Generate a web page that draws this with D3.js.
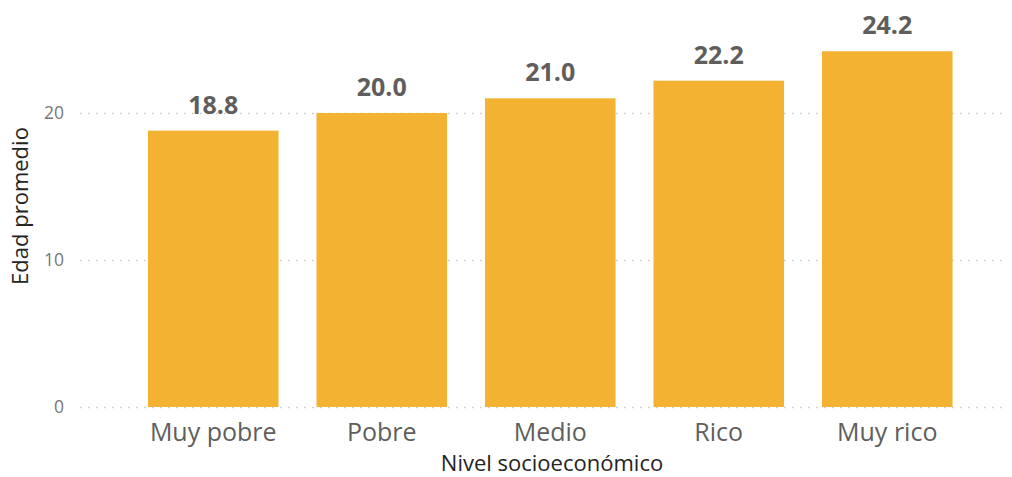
<!DOCTYPE html>
<html>
<head>
<meta charset="utf-8">
<script src="https://cdn.jsdelivr.net/npm/d3@7"></script>
<style>
  body { margin: 0; background: #fff; }
  svg text { font-family: "Open Sans", "Noto Sans", sans-serif; }
</style>
</head>
<body>
<svg id="chart" width="1012" height="477"></svg>
<script>
// data
const categories = ['Muy pobre', 'Pobre', 'Medio', 'Rico', 'Muy rico'];
const values = [18.8, 20.0, 21.0, 22.2, 24.2];
const yTicks = [0, 10, 20];

const svg = d3.select('#chart');

const x = d3.scaleBand()
    .domain(categories)
    .range([129, 971.5])
    .paddingInner(0.225)
    .paddingOuter(0.1125);

const y = d3.scaleLinear()
    .domain([0, 25])
    .range([407, 39.5]);

// dotted gridlines
svg.append('g')
    .selectAll('line')
    .data(yTicks)
    .join('line')
    .attr('x1', 80)
    .attr('x2', 1006)
    .attr('y1', d => y(d) + 0.5)
    .attr('y2', d => y(d) + 0.5)
    .attr('stroke', '#c8c8c8')
    .attr('stroke-width', 1.5)
    .attr('stroke-dasharray', '1.5,6.5');

// y tick labels
svg.append('g')
    .selectAll('text')
    .data(yTicks)
    .join('text')
    .attr('x', 64)
    .attr('y', d => y(d))
    .attr('dy', '0.36em')
    .attr('text-anchor', 'end')
    .attr('font-size', '17.5px')
    .attr('fill', '#777')
    .text(d => d);

// bars
svg.append('g')
    .selectAll('rect')
    .data(values)
    .join('rect')
    .attr('x', (d, i) => x(categories[i]))
    .attr('width', x.bandwidth())
    .attr('y', d => y(d))
    .attr('height', d => y(0) - y(d))
    .attr('fill', '#F4B233');

// value labels
svg.append('g')
    .selectAll('text')
    .data(values)
    .join('text')
    .attr('x', (d, i) => x(categories[i]) + x.bandwidth() / 2)
    .attr('y', d => y(d) - 17)
    .attr('text-anchor', 'middle')
    .attr('font-size', '25px')
    .attr('font-weight', 'bold')
    .attr('fill', '#605E5C')
    .text(d => d.toFixed(1));

// x category labels
svg.append('g')
    .selectAll('text')
    .data(categories)
    .join('text')
    .attr('x', d => x(d) + x.bandwidth() / 2)
    .attr('y', 441)
    .attr('text-anchor', 'middle')
    .attr('font-size', '25px')
    .attr('fill', '#605E5C')
    .text(d => d);

// axis titles
svg.append('text')
    .attr('x', 552)
    .attr('y', 471)
    .attr('text-anchor', 'middle')
    .attr('font-size', '22px')
    .attr('fill', '#252423')
    .text('Nivel socioeconómico');

svg.append('text')
    .attr('transform', 'translate(28,206) rotate(-90)')
    .attr('text-anchor', 'middle')
    .attr('font-size', '22px')
    .attr('fill', '#252423')
    .text('Edad promedio');
</script>
</body>
</html>
